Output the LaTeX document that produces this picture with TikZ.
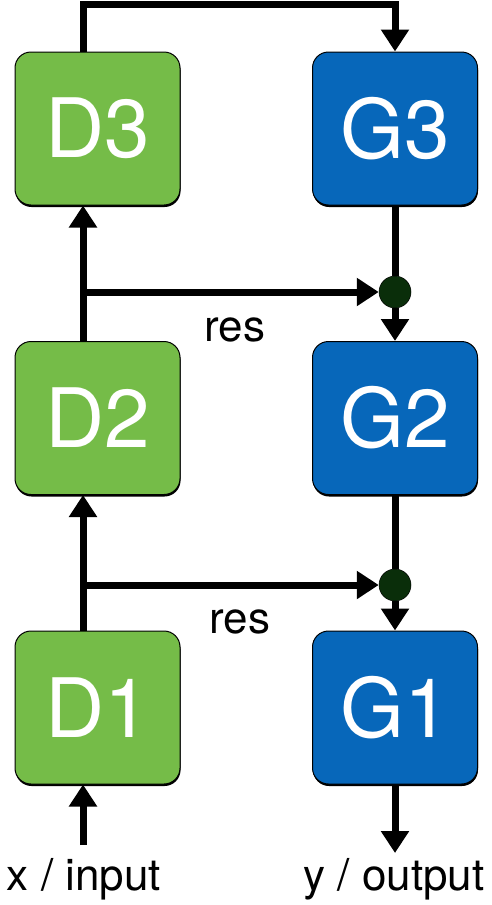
\documentclass[tikz,border=0pt]{standalone}
\usepackage{fontspec}
\setmainfont{TeX Gyre Heros}
\usepackage{tikz}
\usetikzlibrary{positioning,arrows.meta,shadows}

\definecolor{dgreen}{HTML}{75BC48}
\definecolor{gblue}{HTML}{0767BA}
\definecolor{juncgreen}{HTML}{0A2E0A}

\begin{document}
\begin{tikzpicture}[x=1pt, y=-1pt, node distance=289.5pt,
  dnet/.style={draw=black, line width=1pt, fill=dgreen, rounded corners=16pt, minimum width=165pt, minimum height=153pt, inner sep=0pt, text=white, font=\fontsize{82}{90}\selectfont, drop shadow={shadow xshift=0.5pt, shadow yshift=-2pt, opacity=1, fill=black}},
  gnet/.style={dnet, fill=gblue},
  junc/.style={circle, fill=juncgreen, draw=black, line width=0.5pt, minimum size=32pt, inner sep=0pt},
  conn/.style={line width=7pt, -{Triangle[length=22pt, width=27pt]}},
  wire/.style={line width=7pt},
  lbl/.style={font=\fontsize{44}{50}\selectfont}]

\useasboundingbox (0,0) rectangle (492,905);

\node[dnet] (d1) at (97.5,707.5) {D1};
\node[dnet] (d2) [above of =d1] {D2};
\node[dnet] (d3) [above of =d2] {D3};

\node[gnet] (g1) at (395,707.5) {G1};
\node[gnet] (g2) [above of =g1] {G2};
\node[gnet] (g3) [above of =g2] {G3};

\node[junc] (j1) at (395,585) {};
\node[junc] (j2) at (395,292) {};

\node[lbl] (res1) at (240,622) {res};
\node[lbl] (res2) at (235,330) {res};

\node[lbl, anchor=base] (xin) at (84,890) {x / input};
\node[lbl, anchor=base] (yout) at (394,890) {y / output};

\coordinate (dl1) at ([xshift=-14.5pt]d1.north);
\coordinate (dl2) at ([xshift=-14.5pt]d2.north);
\coordinate (dl3) at ([xshift=-14.5pt]d3.north);
\coordinate (inp) at (83,845);
\coordinate (outp) at (395,853);
\coordinate (top) at (83,4);

% D column
\draw[conn] (inp) -- (inp |- d1.south);
\draw[conn] (dl1) -- (dl1 |- d2.south);
\draw[conn] (dl2) -- (dl2 |- d3.south);

% residual links
\draw[conn] (dl1 |- j1) -- (j1);
\draw[conn] (dl2 |- j2) -- (j2);

% top loop
\draw[conn] (dl3) -- (top) -| (g3.north);

% G column
\draw[wire] (g3) -- (j2);
\draw[conn] (j2) -- (g2);
\draw[wire] (g2) -- (j1);
\draw[conn] (j1) -- (g1);
\draw[conn] (g1) -- (outp);

\end{tikzpicture}
\end{document}
